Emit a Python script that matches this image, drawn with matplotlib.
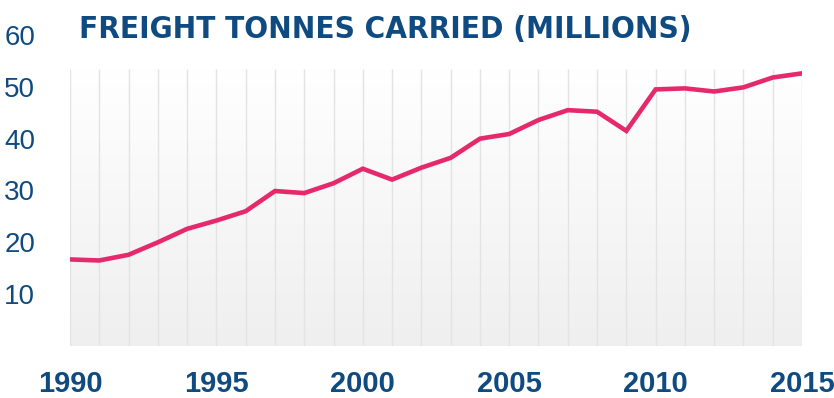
import numpy as np
import matplotlib.pyplot as plt
from matplotlib.colors import LinearSegmentedColormap

# freight tonnes carried per year, millions
years = list(range(1990, 2016))
tonnes = [16.7, 16.5, 17.6, 20.0, 22.6, 24.2, 26.0, 29.9, 29.5, 31.4,
          34.2, 32.1, 34.4, 36.3, 40.0, 40.9, 43.6, 45.5, 45.2, 41.5,
          49.5, 49.7, 49.1, 49.9, 51.8, 52.6]
ytick_vals = [10, 20, 30, 40, 50, 60]
xtick_vals = [1990, 1995, 2000, 2005, 2010, 2015]

navy = '#0f4a80'
pink = '#e5296b'

fig = plt.figure(figsize=(8.34, 3.98), dpi=100)
ax = fig.add_axes([70 / 834, 52 / 398, 732 / 834, 311 / 398])

# soft grey-to-white background behind the line
bg_top = 53.5
grad = np.linspace(0, 1, 256).reshape(-1, 1)
cmap = LinearSegmentedColormap.from_list('bg', ['#efefef', '#ffffff'])
ax.imshow(grad, extent=[years[0], years[-1], 0, bg_top], origin='lower',
          aspect='auto', cmap=cmap, zorder=0)

# thin vertical lines at every year
ax.vlines(years, 0, bg_top, colors='#e3e3e3', linewidth=1, zorder=1)
ax.hlines(0, years[0], years[-1], colors='#e6e6e6', linewidth=1, zorder=1)

ax.plot(years, tonnes, color=pink, linewidth=3.3, solid_joinstyle='miter',
        zorder=3)

ax.set_xlim(years[0], years[-1])
ax.set_ylim(0, 60)
for s in ax.spines.values():
    s.set_visible(False)

ax.set_yticks(ytick_vals)
ax.set_yticklabels([str(v) for v in ytick_vals], fontsize=20, color=navy,
                   family='Liberation Sans')
ax.set_xticks(xtick_vals)
ax.set_xticklabels([str(v) for v in xtick_vals], fontsize=21, color=navy,
                   family='Liberation Sans', fontweight='bold')
ax.tick_params(axis='y', length=0, pad=25)
ax.tick_params(axis='x', length=0, pad=17)

fig.text(385.5 / 834, 1 - 29 / 398, 'FREIGHT TONNES CARRIED (MILLIONS)',
         ha='center', va='center', fontsize=22.5, color=navy,
         family='DejaVu Sans', fontstretch='condensed', fontweight='bold')

fig.savefig('out.png', dpi=100, facecolor='white')
